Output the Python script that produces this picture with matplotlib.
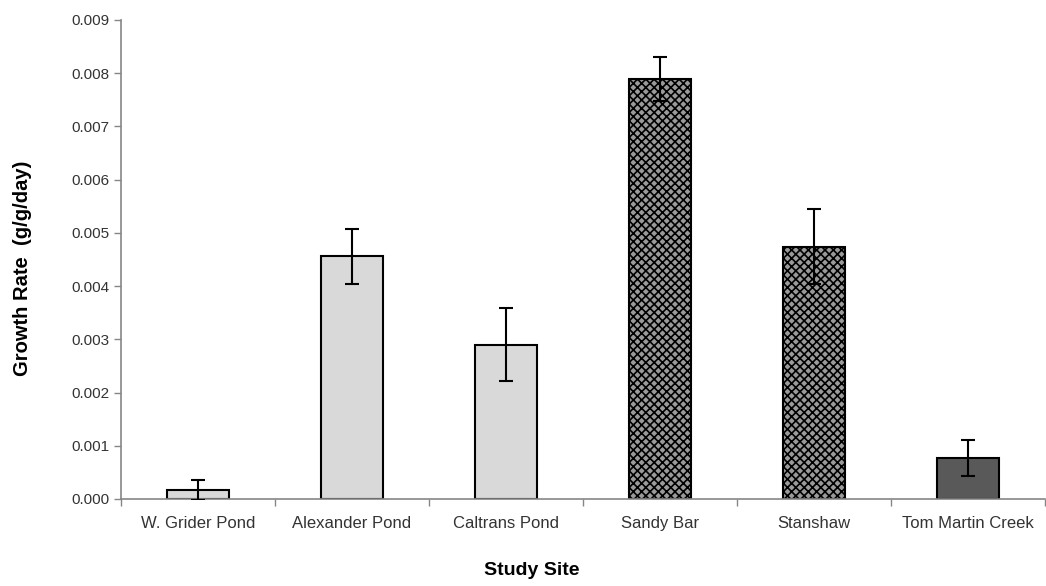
import matplotlib.pyplot as plt
import numpy as np

plt.rcParams["font.family"] = ["Liberation Sans", "DejaVu Sans"]
plt.rcParams["hatch.linewidth"] = 1.2

sites = ["W. Grider Pond", "Alexander Pond", "Caltrans Pond", "Sandy Bar", "Stanshaw", "Tom Martin Creek"]
growth = [0.00017, 0.00456, 0.00290, 0.00789, 0.00474, 0.00077]
err = [0.00019, 0.00052, 0.00068, 0.00041, 0.00071, 0.00033]
fills = ["#d9d9d9", "#d9d9d9", "#d9d9d9", "#9a9a9a", "#9a9a9a", "#595959"]
hatches = [None, None, None, "xxxx", "xxxx", None]

fig = plt.figure(figsize=(10.46, 5.86), dpi=100)
ax = fig.add_axes([0.1157, 0.1485, 0.8833, 0.8174])

x = np.arange(len(sites))
bars = ax.bar(x, growth, width=0.4, color=fills, edgecolor="black", linewidth=1.5, zorder=2)
for b, h in zip(bars, hatches):
    if h:
        b.set_hatch(h)
ax.errorbar(x, growth, yerr=err, fmt="none", ecolor="black", elinewidth=1.5,
            capsize=5, capthick=1.5, zorder=3)

ax.set_xlim(-0.5, len(sites) - 0.5)
ax.set_ylim(0, 0.009)
ticks = np.arange(0, 0.0091, 0.001)
ax.set_yticks(ticks)
ax.set_yticklabels([f"{v:.3f}" for v in ticks])
ax.set_xticks(x)
ax.set_xticklabels(sites)
ax.set_xticks(np.arange(-0.5, len(sites)), minor=True)
ax.tick_params(axis="x", which="major", length=0, pad=12, labelsize=12, colors="#333333")
ax.tick_params(axis="x", which="minor", length=5, color="#868686", width=1)
ax.tick_params(axis="y", length=5, color="#868686", width=1, labelsize=11, labelcolor="#333333")

for s in ["top", "right"]:
    ax.spines[s].set_visible(False)
for s in ["left", "bottom"]:
    ax.spines[s].set_color("#868686")
    ax.spines[s].set_linewidth(1.2)

ax.set_ylabel("Growth Rate  (g/g/day)", fontsize=14.5, fontweight="bold")
ax.yaxis.set_label_coords(-0.096, 0.482)
ax.set_xlabel("Study Site", fontsize=14, fontweight="bold")
ax.xaxis.set_label_coords(0.445, -0.132)

fig.savefig("out.png", dpi=100)
